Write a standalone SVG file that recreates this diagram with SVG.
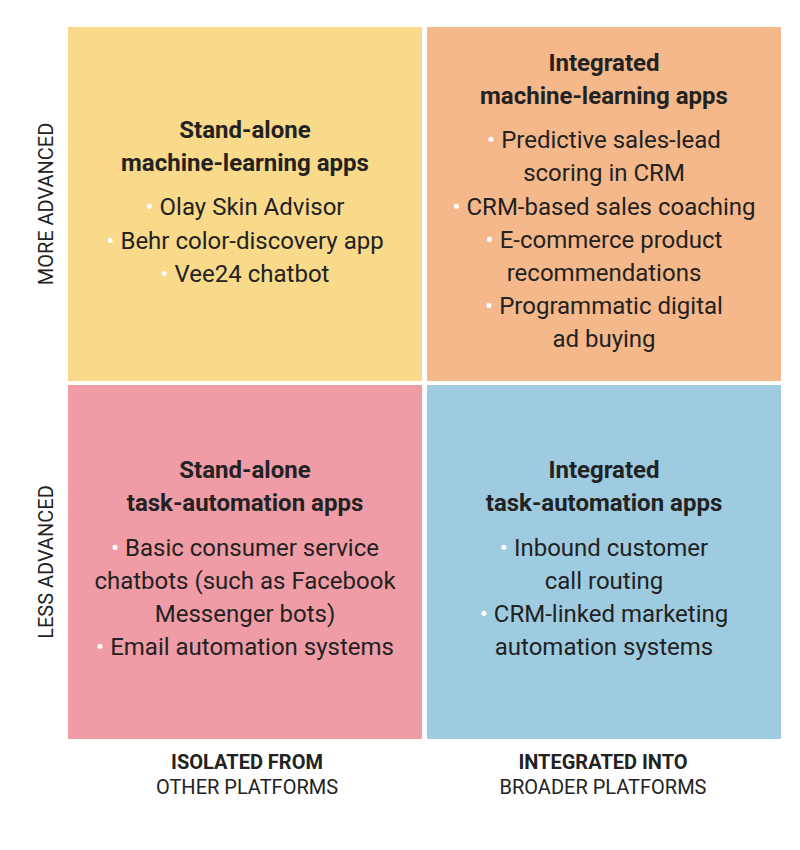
<svg xmlns="http://www.w3.org/2000/svg" width="800" height="850" viewBox="0 0 800 850">
<style>
text{font-family:Roboto,"Liberation Sans",sans-serif;fill:#222;text-anchor:middle}
.h{font-weight:bold;font-size:24px}
.b{font-size:24px}
.d{fill:#fff}
.ax{font-size:20px}
.axb{font-size:20px;font-weight:bold}
</style>
<rect width="800" height="850" fill="#fff"/>
<g id="tl"><rect x="68" y="27" width="354" height="354" fill="#F9D98A"/>
<text class="h" x="245" y="138">Stand-alone</text>
<text class="h" x="245" y="171">machine-learning apps</text>
<text class="b" x="245" y="215"><tspan class="d">• </tspan>Olay Skin Advisor</text>
<text class="b" x="245" y="249"><tspan class="d">• </tspan>Behr color-discovery app</text>
<text class="b" x="245" y="282"><tspan class="d">• </tspan>Vee24 chatbot</text></g>
<g id="tr"><rect x="427" y="27" width="354" height="354" fill="#F5B88A"/>
<text class="h" x="604" y="71">Integrated</text>
<text class="h" x="604" y="104">machine-learning apps</text>
<text class="b" x="604" y="148"><tspan class="d">• </tspan>Predictive sales-lead</text>
<text class="b" x="604" y="181">scoring in CRM</text>
<text class="b" x="604" y="215"><tspan class="d">• </tspan>CRM-based sales coaching</text>
<text class="b" x="604" y="248"><tspan class="d">• </tspan>E-commerce product</text>
<text class="b" x="604" y="281">recommendations</text>
<text class="b" x="604" y="314"><tspan class="d">• </tspan>Programmatic digital</text>
<text class="b" x="604" y="347">ad buying</text></g>
<g id="bl"><rect x="68" y="385" width="354" height="354" fill="#F09CA6"/>
<text class="h" x="245" y="478">Stand-alone</text>
<text class="h" x="245" y="511">task-automation apps</text>
<text class="b" x="245" y="556"><tspan class="d">• </tspan>Basic consumer service</text>
<text class="b" x="245" y="589">chatbots (such as Facebook</text>
<text class="b" x="245" y="622">Messenger bots)</text>
<text class="b" x="245" y="655"><tspan class="d">• </tspan>Email automation systems</text></g>
<g id="br"><rect x="427" y="385" width="354" height="354" fill="#9ECBE0"/>
<text class="h" x="604" y="478">Integrated</text>
<text class="h" x="604" y="511">task-automation apps</text>
<text class="b" x="604" y="556"><tspan class="d">• </tspan>Inbound customer</text>
<text class="b" x="604" y="589">call routing</text>
<text class="b" x="604" y="622"><tspan class="d">• </tspan>CRM-linked marketing</text>
<text class="b" x="604" y="655">automation systems</text></g>
<g id="axes">
<text class="ax" transform="translate(53,204) rotate(-90)">MORE ADVANCED</text>
<text class="ax" transform="translate(53,562) rotate(-90)">LESS ADVANCED</text>
<text class="axb" x="247" y="769">ISOLATED FROM</text>
<text class="ax" x="247" y="794">OTHER PLATFORMS</text>
<text class="axb" x="603" y="769">INTEGRATED INTO</text>
<text class="ax" x="603" y="794">BROADER PLATFORMS</text>
</g>
<g id="connectors"/>
</svg>
